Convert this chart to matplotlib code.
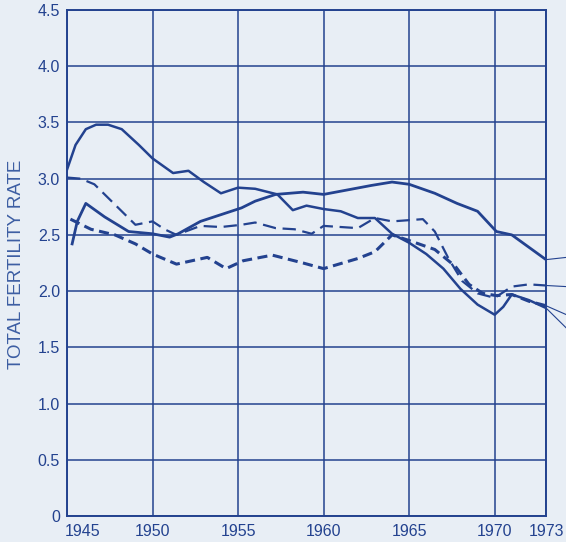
import matplotlib
matplotlib.use("Agg")
from matplotlib import pyplot as plt
from matplotlib.transforms import ScaledTranslation

# series (year, total fertility rate)
a_years = [1945, 1945.5, 1946.1, 1946.7, 1947.4, 1948.2, 1949.2, 1950, 1951.2, 1952.1, 1953, 1954, 1955,
           1956, 1957.3, 1958.2, 1959, 1960, 1961, 1962, 1963, 1964, 1965, 1966, 1967, 1968, 1969,
           1970, 1970.5, 1971, 1972, 1973]
a_vals = [3.08, 3.3, 3.44, 3.48, 3.48, 3.44, 3.3, 3.18, 3.05, 3.07, 2.97, 2.87, 2.92,
          2.91, 2.86, 2.72, 2.76, 2.73, 2.71, 2.65, 2.65, 2.51, 2.43, 2.33, 2.2, 2.02, 1.88,
          1.79, 1.86, 1.97, 1.92, 1.85]

b_years = [1945.3, 1945.6, 1946.1, 1947.2, 1948.6, 1950, 1951, 1951.5, 1952.8, 1954, 1955.2,
           1956, 1957.2, 1958.8, 1960, 1961.4, 1962.8, 1964, 1965, 1966.5, 1967.8, 1969,
           1970.1, 1971, 1972, 1973]
b_vals = [2.42, 2.62, 2.78, 2.66, 2.53, 2.51, 2.48, 2.51, 2.62, 2.68, 2.74,
          2.8, 2.86, 2.88, 2.86, 2.9, 2.94, 2.97, 2.95, 2.87, 2.78, 2.71,
          2.53, 2.5, 2.39, 2.28]

c_years = [1945, 1945.8, 1946.6, 1947.8, 1949, 1950, 1950.7, 1951.4, 1952.8, 1954, 1955.2,
           1956, 1957.2, 1958.3, 1959.3, 1960, 1962, 1963, 1964, 1965.8, 1966.5, 1967.3,
           1968.1, 1969, 1970, 1971, 1972, 1973]
c_vals = [3.01, 3.0, 2.95, 2.77, 2.59, 2.62, 2.55, 2.5, 2.58, 2.57, 2.59,
          2.61, 2.56, 2.55, 2.51, 2.58, 2.56, 2.65, 2.62, 2.64, 2.53, 2.29,
          2.09, 1.98, 1.94, 2.04, 2.06, 2.05]

d_years = [1945.2, 1946.4, 1947.8, 1949, 1950, 1951.4, 1953.2, 1954.3, 1955.3, 1957,
           1958.8, 1960, 1962, 1963, 1964, 1965, 1966.5, 1967.7, 1968.5, 1969.3,
           1970.1, 1971, 1972, 1973]
d_vals = [2.64, 2.55, 2.5, 2.42, 2.33, 2.24, 2.3, 2.2, 2.27, 2.32,
          2.25, 2.2, 2.29, 2.35, 2.5, 2.45, 2.37, 2.22, 2.06, 1.98,
          1.96, 1.97, 1.91, 1.87]

# leader lines running off the right edge (year, value)
lead_years = [1973, 1974.2]
lead_a = [1.85, 1.67]
lead_b = [2.28, 2.30]
lead_c = [2.05, 2.04]
lead_d = [1.87, 1.79]

x_ticks = [1945, 1950, 1955, 1960, 1965, 1970, 1973]
y_ticks = [0, 0.5, 1.0, 1.5, 2.0, 2.5, 3.0, 3.5, 4.0, 4.5]
y_labels = ['0', '0.5', '1.0', '1.5', '2.0', '2.5', '3.0', '3.5', '4.0', '4.5']

ink = '#23428f'
paper = '#e8eef5'

fig = plt.figure(figsize=(5.66, 5.42), dpi=100, facecolor=paper)
ax = fig.add_axes([67 / 566, 1 - 516 / 542, (546 - 67) / 566, (516 - 10) / 542])
ax.set_facecolor(paper)

ax.plot(a_years, a_vals, color=ink, lw=1.8)
ax.plot(b_years, b_vals, color=ink, lw=2.0)
ax.plot(c_years, c_vals, color=ink, lw=1.6, dashes=(6, 3))
ax.plot(d_years, d_vals, color=ink, lw=2.2, dashes=(3.3, 1.8))

for vals in (lead_a, lead_b, lead_c, lead_d):
    ax.plot(lead_years, vals, color=ink, lw=0.8, clip_on=False)

ax.set_xlim(1945, 1973)
ax.set_ylim(0, 4.5)
ax.set_xticks(x_ticks)
ax.set_yticks(y_ticks)
ax.set_yticklabels(y_labels)
ax.grid(True, color=ink, lw=1.1)
ax.set_axisbelow(True)
for s in ax.spines.values():
    s.set_color(ink)
    s.set_linewidth(1.4)

ax.tick_params(length=0, colors=ink, labelsize=11.5)
ax.tick_params(axis='y', pad=5)
ax.tick_params(axis='x', pad=6)
for lab in ax.get_xticklabels() + ax.get_yticklabels():
    lab.set_family('Liberation Sans')
first = ax.get_xticklabels()[0]
first.set_horizontalalignment('left')
first.set_transform(first.get_transform() + ScaledTranslation(-2 / 100, 0, fig.dpi_scale_trans))

fig.text(17 / 566, 1 - 264 / 542, 'TOTAL FERTILITY RATE', rotation=90,
         ha='center', va='center', color='#3d5ea3', fontsize=13.5,
         family='Liberation Sans')

plt.savefig('out.png', dpi=100, facecolor=paper)
